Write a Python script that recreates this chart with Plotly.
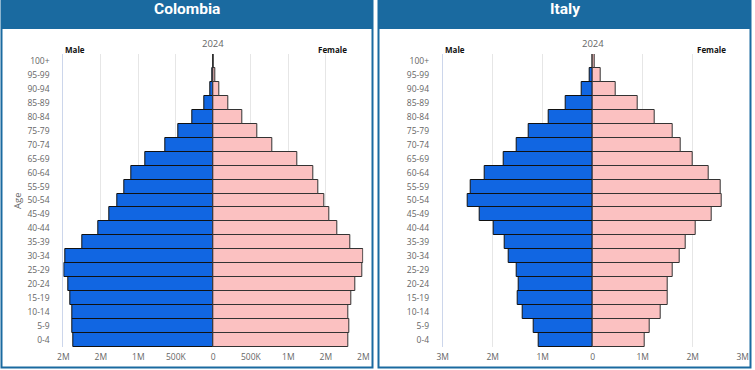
import plotly.graph_objects as go

# ---------------- data ----------------
age_groups = ["0-4", "5-9", "10-14", "15-19", "20-24", "25-29", "30-34", "35-39",
              "40-44", "45-49", "50-54", "55-59", "60-64", "65-69", "70-74",
              "75-79", "80-84", "85-89", "90-94", "95-99", "100+"]

colombia_male = [1870000, 1880000, 1880000, 1910000, 1940000, 1990000, 1970000, 1750000,
                 1540000, 1390000, 1280000, 1190000, 1090000, 910000, 645000,
                 465000, 275000, 115000, 35000, 8000, 0]
colombia_female = [1800000, 1810000, 1800000, 1840000, 1890000, 1990000, 2000000, 1830000,
                   1650000, 1550000, 1480000, 1400000, 1330000, 1120000, 790000,
                   580000, 380000, 200000, 75000, 25000, 0]

italy_male = [1090000, 1190000, 1410000, 1510000, 1490000, 1530000, 1680000, 1770000,
              1980000, 2270000, 2510000, 2450000, 2170000, 1790000, 1520000,
              1280000, 880000, 550000, 230000, 70000, 0]
italy_female = [1030000, 1130000, 1350000, 1490000, 1490000, 1590000, 1740000, 1850000,
                2050000, 2370000, 2580000, 2550000, 2310000, 1990000, 1750000,
                1590000, 1230000, 890000, 450000, 150000, 40000]

year_label = "2024"
colombia_tick_values = [-2000000, -1500000, -1000000, -500000, 0, 500000, 1000000, 1500000, 2000000]
colombia_tick_labels = ["2M", "2M", "1M", "500K", "0", "500K", "1M", "2M", "2M"]
italy_tick_values = [-3000000, -2000000, -1000000, 0, 1000000, 2000000, 3000000]
italy_tick_labels = ["3M", "2M", "1M", "0", "1M", "2M", "3M"]

# ---------------- layout helpers ----------------
W, H = 755, 370
def fx(p):
    return p / W
def fy(p):
    return 1 - p / H

HEADER = "#1a6aa0"
MALE = "#1166e2"
FEMALE = "#fbc1c1"
GRID = "#e6e6e6"
TICK = "#666666"
FONT = "Open Sans"

panels = [
    dict(title="Colombia", male=colombia_male, female=colombia_female, xa="x", ya="y",
         left=63.3, right=363.3, rng=2000000, tv=colombia_tick_values, tt=colombia_tick_labels,
         box=(1.5, 372.5), age_title=True),
    dict(title="Italy", male=italy_male, female=italy_female, xa="x2", ya="y2",
         left=442.7, right=742.7, rng=3000000, tv=italy_tick_values, tt=italy_tick_labels,
         box=(378.5, 750.5), age_title=False),
]

TOP, BOTTOM = 54, 347

fig = go.Figure()
shapes = []
annotations = []

for i, p in enumerate(panels):
    fig.add_trace(go.Bar(
        y=age_groups, x=[-v for v in p["male"]], orientation="h", name="Male",
        marker=dict(color=MALE, line=dict(color="#111111", width=1)),
        xaxis=p["xa"], yaxis=p["ya"], showlegend=False, hoverinfo="skip"))
    fig.add_trace(go.Bar(
        y=age_groups, x=p["female"], orientation="h", name="Female",
        marker=dict(color=FEMALE, line=dict(color="#333333", width=1)),
        xaxis=p["xa"], yaxis=p["ya"], showlegend=False, hoverinfo="skip"))

    xkey = "xaxis" if i == 0 else "xaxis2"
    ykey = "yaxis" if i == 0 else "yaxis2"
    fig.update_layout(**{
        xkey: dict(domain=[fx(p["left"]), fx(p["right"])], range=[-p["rng"], p["rng"]],
                   tickvals=p["tv"], ticktext=p["tt"], showgrid=True, gridcolor=GRID,
                   gridwidth=1, zeroline=False, showline=False, anchor=p["ya"],
                   tickfont=dict(size=8.5, color=TICK, family=FONT), ticks="",
                   ticklabelstandoff=3, fixedrange=True, automargin=False),
        ykey: dict(domain=[fy(BOTTOM), fy(TOP)], type="category",
                   categoryorder="array", categoryarray=age_groups,
                   showgrid=False, zeroline=False, showline=True, linecolor="#ccd6eb",
                   linewidth=1, anchor=p["xa"], ticks="",
                   tickfont=dict(size=8.5, color=TICK, family=FONT),
                   ticklabelstandoff=11, fixedrange=True, automargin=False),
    })

    bx0, bx1 = p["box"]
    # panel border
    shapes.append(dict(type="rect", xref="paper", yref="paper",
                       x0=fx(bx0), x1=fx(bx1), y0=fy(367.5), y1=fy(0.5),
                       line=dict(color=HEADER, width=2), fillcolor="rgba(0,0,0,0)",
                       layer="above"))
    # header bar
    shapes.append(dict(type="rect", xref="paper", yref="paper",
                       x0=fx(bx0), x1=fx(bx1), y0=fy(29), y1=fy(0),
                       line=dict(width=0), fillcolor=HEADER, layer="below"))

    cx = (p["left"] + p["right"]) / 2
    annotations.append(dict(text="<b>%s</b>" % p["title"], x=fx((bx0 + bx1) / 2), y=fy(9),
                            xref="paper", yref="paper", showarrow=False,
                            font=dict(size=15.5, color="white", family="Roboto"),
                            xanchor="center", yanchor="middle"))
    annotations.append(dict(text=year_label, x=fx(cx), y=fy(43), xref="paper", yref="paper",
                            showarrow=False, font=dict(size=9.5, color=TICK, family=FONT),
                            xanchor="center", yanchor="middle"))
    annotations.append(dict(text="<b>Male</b>", x=fx(p["left"] + 12), y=fy(50),
                            xref="paper", yref="paper", showarrow=False,
                            font=dict(size=8, color="#111111", family=FONT),
                            xanchor="center", yanchor="middle"))
    annotations.append(dict(text="<b>Female</b>", x=fx(p["right"] - 31), y=fy(50),
                            xref="paper", yref="paper", showarrow=False,
                            font=dict(size=8, color="#111111", family=FONT),
                            xanchor="center", yanchor="middle"))
    if p["age_title"]:
        annotations.append(dict(text="Age", x=fx(17), y=fy(201), xref="paper", yref="paper",
                                showarrow=False, textangle=-90,
                                font=dict(size=9.5, color=TICK, family=FONT),
                                xanchor="center", yanchor="middle"))

fig.update_layout(
    width=W, height=H, margin=dict(l=0, r=0, t=0, b=0, pad=0, autoexpand=False),
    paper_bgcolor="white", plot_bgcolor="rgba(0,0,0,0)",
    barmode="overlay", bargap=0,
    shapes=shapes, annotations=annotations,
    font=dict(family=FONT),
)

fig.write_html(
    "out.html",
    config={"displayModeBar": False, "responsive": False},
    post_script="document.body.style.margin='0';document.body.style.padding='0';"
                "document.body.style.overflow='hidden';",
)
